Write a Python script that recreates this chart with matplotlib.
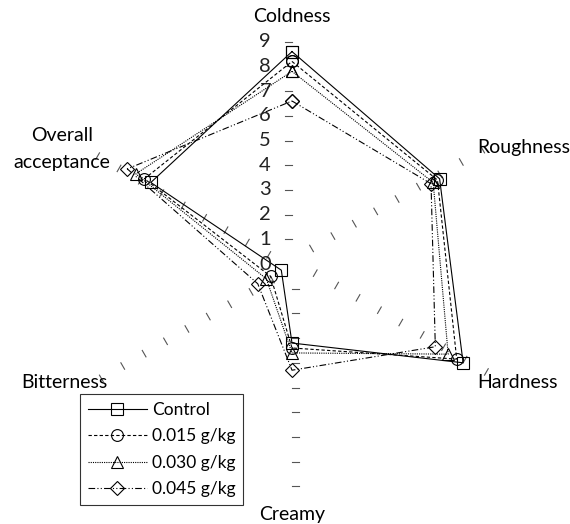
import matplotlib.pyplot as plt
import numpy as np

plt.rcParams['font.family'] = ['Lato', 'DejaVu Sans']

# attributes, clockwise from the top
attributes = ['Coldness', 'Roughness', 'Hardness', 'Creamy', 'Bitterness', 'Overall\nacceptance']

control = [8.6, 6.9, 8.0, 3.2, 0.5, 6.6]
g015 = [8.2, 6.8, 7.7, 3.4, 1.0, 6.9]
g030 = [7.8, 6.6, 7.3, 3.6, 1.2, 7.3]
g045 = [6.6, 6.5, 6.7, 4.3, 1.6, 7.7]

series_names = ['Control', '0.015 g/kg', '0.030 g/kg', '0.045 g/kg']
scale_ticks = list(range(0, 10))

# geometry in pixels of the 570x524 figure
W, H = 570, 524
cx, cy = 292, 264
unit = 24.7

fig = plt.figure(figsize=(W / 100, H / 100), dpi=100)
ax = fig.add_axes([0, 0, 1, 1])
ax.set_xlim(-cx / unit, (W - cx) / unit)
ax.set_ylim(-(H - cy) / unit, cy / unit)
ax.axis('off')

n = len(attributes)
angles = np.pi / 2 - np.arange(n) * 2 * np.pi / n


def to_xy(vals):
    vals = np.array(vals + vals[:1])
    ang = np.concatenate([angles, angles[:1]])
    return vals * np.cos(ang), vals * np.sin(ang)


# tick marks on every spoke
tick_len = 0.3
for a in angles:
    d = np.array([np.cos(a), np.sin(a)])
    p = np.array([-np.sin(a), np.cos(a)])
    for r in scale_ticks[1:]:
        s = d * r
        e = s + p * tick_len
        ax.plot([s[0], e[0]], [s[1], e[1]], color='#555555', lw=0.8)

# scale numbers on the Coldness spoke
for r in scale_ticks:
    ax.text(-0.85, r, str(r), ha='right', va='center', fontsize=14.5, color='#222222')

styles = [
    dict(ls='-', marker='s'),
    dict(ls=(0, (3, 2)), marker='o'),
    dict(ls=(0, (1, 1)), marker='^'),
    dict(ls=(0, (6, 2, 1, 2, 1, 2)), marker='D'),
]
for vals, name, st in zip([control, g015, g030, g045], series_names, styles):
    x, y = to_xy(vals)
    ms = 7 if st['marker'] == 'D' else 8.5
    ax.plot(x, y, color='black', lw=0.8, linestyle=st['ls'], marker=st['marker'],
            markersize=ms, markerfacecolor='none', markeredgecolor='black',
            markeredgewidth=0.8, label=name)

# attribute labels
fs = 14
ax.text(0, 10.0, attributes[0], ha='center', va='center', fontsize=fs)
ax.text(7.5, 4.7, attributes[1], ha='left', va='center', fontsize=fs)
ax.text(7.5, -4.78, attributes[2], ha='left', va='center', fontsize=fs)
ax.text(0, -10.16, attributes[3], ha='center', va='center', fontsize=fs)
ax.text(-7.45, -4.78, attributes[4], ha='right', va='center', fontsize=fs)
ax.text(-9.3, 4.65, attributes[5], ha='center', va='center', fontsize=fs,
        linespacing=1.7)

leg = ax.legend(loc='upper left', bbox_to_anchor=(80 / W, 1 - 394 / H),
                bbox_transform=fig.transFigure, fontsize=12.5, frameon=True,
                fancybox=False, edgecolor='black', handlelength=3.4,
                labelspacing=0.6, borderpad=0.45, handletextpad=0.3,
                borderaxespad=0)
leg.get_frame().set_linewidth(0.8)

plt.savefig('out.png', dpi=100)
